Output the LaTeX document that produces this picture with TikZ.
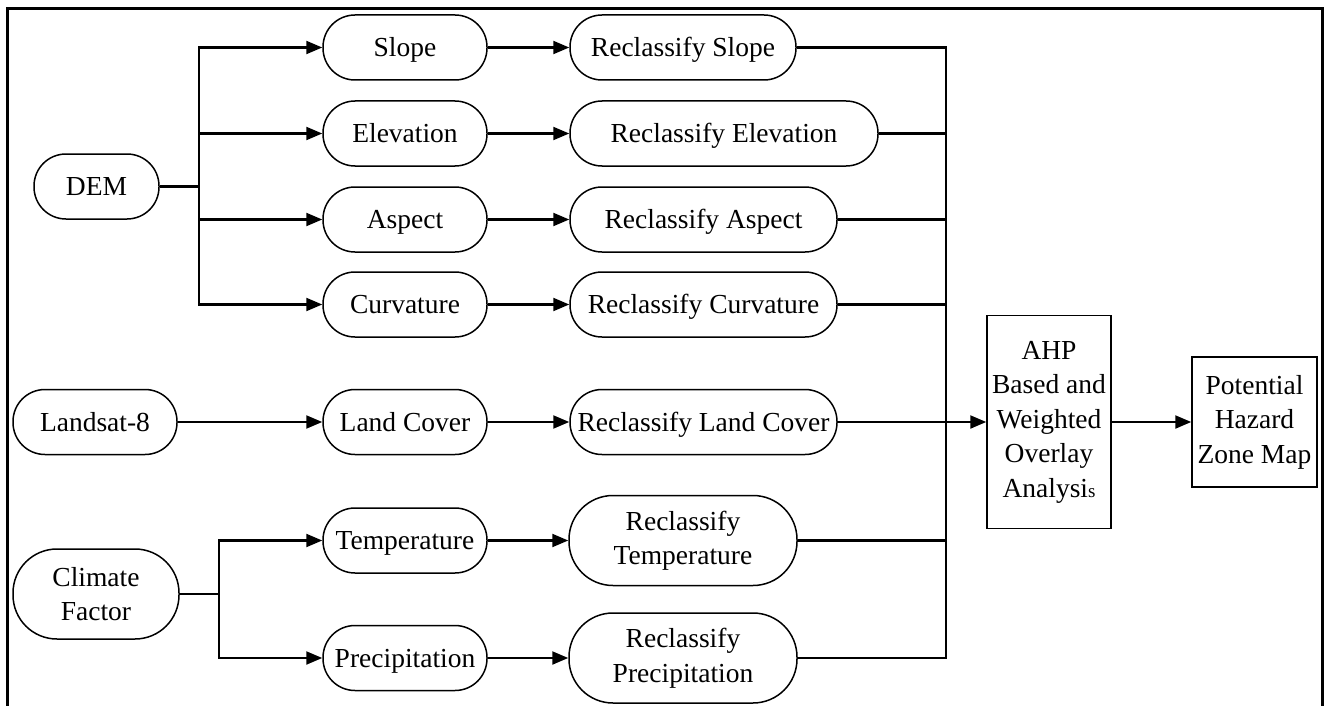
\documentclass[tikz,border=0pt]{standalone}
\usepackage{fontspec}
\setmainfont{Liberation Serif}
\usetikzlibrary{arrows.meta}
\begin{document}
\begin{tikzpicture}[x=1pt,y=-1pt,
  every node/.style={font=\fontsize{27.5}{34.5}\selectfont, align=center, inner sep=0pt},
  pill/.style={draw, line width=1.5pt, rounded corners=32pt, minimum height=65pt, text height=22pt, text depth=4pt},
  pilltall/.style={draw, line width=1.5pt, rounded corners=44pt, minimum height=90pt},
  sqbox/.style={draw, line width=1.5pt},
  conn/.style={line width=2.2pt},
  arr/.style={line width=2.2pt, -{Triangle[length=16pt,width=13pt]}},
  frame/.style={line width=3pt}
]
\useasboundingbox (0,0) rectangle (1327,706);
\draw[frame] (7.5,706) -- (7.5,8.5) -- (1322,8.5) -- (1322,706);

% sources
\node[pill, minimum width=125pt] (DEM) at (96.5,186.5) {DEM};
\node[pill, minimum width=164pt] (LS) at (95,422) {Landsat-8};
\node[pilltall, minimum width=166pt] (CF) at (96,594) {Climate\\Factor};

% factors
\node[pill, minimum width=164pt] (Slope) at (405,47.5) {Slope};
\node[pill, minimum width=164pt] (Elev) at (405,133.5) {Elevation};
\node[pill, minimum width=164pt] (Asp) at (405,219.5) {Aspect};
\node[pill, minimum width=164pt] (Curv) at (405,304.5) {Curvature};
\node[pill, minimum width=164pt] (LC) at (405,422) {Land Cover};
\node[pill, minimum width=164pt] (Temp) at (405,540.5) {Temperature};
\node[pill, minimum width=164pt] (Prec) at (405,658) {Precipitation};

% reclassified
\node[pill, minimum width=226pt] (RSlope) at (683,47.5) {Reclassify Slope};
\node[pill, minimum width=308pt] (RElev) at (724,133.5) {Reclassify Elevation};
\node[pill, minimum width=267pt] (RAsp) at (703.5,219.5) {Reclassify Aspect};
\node[pill, minimum width=267pt] (RCurv) at (703.5,304.5) {Reclassify Curvature};
\node[pill, minimum width=267pt] (RLC) at (703.5,422) {Reclassify Land Cover};
\node[pilltall, minimum width=228pt] (RTemp) at (683,540.5) {Reclassify\\Temperature};
\node[pilltall, minimum width=228pt] (RPrec) at (683,658) {Reclassify\\Precipitation};

% analysis
\node[sqbox, minimum width=124pt, minimum height=213pt] (AHP) at (1049,422)
  {AHP\\Based and\\Weighted\\Overlay\\Analysi{\fontsize{19}{19}\selectfont s}};
\node[sqbox, minimum width=125pt, minimum height=130pt] (PHZ) at (1254.5,422)
  {Potential\\Hazard\\Zone Map};

% junctions
\coordinate (jD) at (199,186.5);
\coordinate (jC) at (219,594);
\coordinate (col) at (946,422);

% DEM branches
\draw[conn] (DEM.east) -- (jD);
\draw[arr] (jD) |- (Slope.west);
\draw[arr] (jD) |- (Elev.west);
\draw[arr] (jD) |- (Asp.west);
\draw[arr] (jD) |- (Curv.west);

% Landsat
\draw[arr] (LS.east) -- (LC.west);

% Climate branches
\draw[conn] (CF.east) -- (jC);
\draw[arr] (jC) |- (Temp.west);
\draw[arr] (jC) |- (Prec.west);

% factor -> reclassify
\draw[arr] (Slope.east) -- (RSlope.west);
\draw[arr] (Elev.east) -- (RElev.west);
\draw[arr] (Asp.east) -- (RAsp.west);
\draw[arr] (Curv.east) -- (RCurv.west);
\draw[arr] (LC.east) -- (RLC.west);
\draw[arr] (Temp.east) -- (RTemp.west);
\draw[arr] (Prec.east) -- (RPrec.west);

% collector
\draw[conn] (RSlope.east) -| (col);
\draw[conn] (RElev.east) -| (col);
\draw[conn] (RAsp.east) -| (col);
\draw[conn] (RCurv.east) -| (col);
\draw[conn] (RTemp.east) -| (col);
\draw[conn] (RPrec.east) -| (col);
\draw[arr] (RLC.east) -- (AHP.west);

% output
\draw[arr] (AHP.east) -- (PHZ.west);
\end{tikzpicture}
\end{document}
